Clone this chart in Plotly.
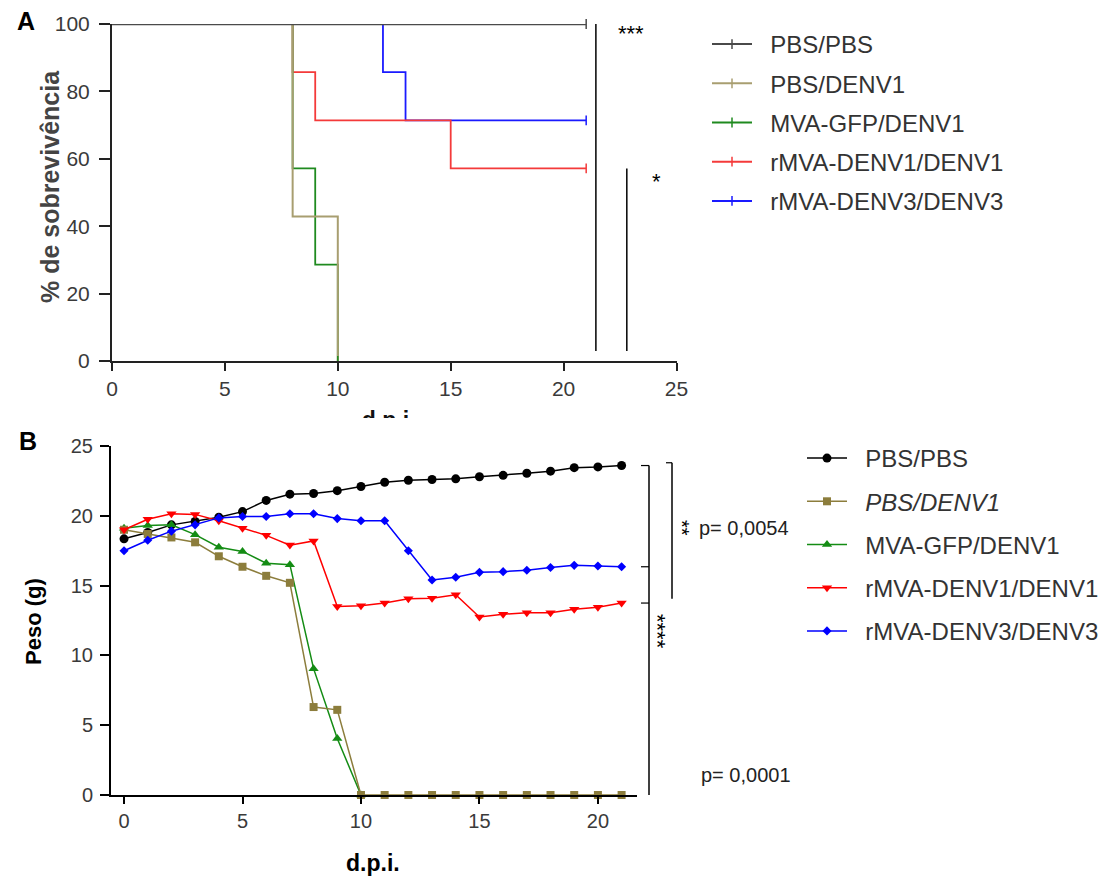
import plotly.graph_objects as go

# ---------------- data ----------------
groups = ["PBS/PBS", "PBS/DENV1", "MVA-GFP/DENV1", "rMVA-DENV1/DENV1", "rMVA-DENV3/DENV3"]

# Panel A: Kaplan-Meier survival, change points (day, % surviving)
surv_t_pbs = [0, 21]
surv_pbs = [100, 100]
surv_t_pbs_denv1 = [0, 8, 10]
surv_pbs_denv1 = [100, 42.86, 0]
surv_t_gfp = [0, 8, 9, 10]
surv_gfp = [100, 57.14, 28.57, 0]
surv_t_rmva1 = [0, 8, 9, 15, 21]
surv_rmva1 = [100, 85.71, 71.43, 57.14, 57.14]
surv_t_rmva3 = [0, 12, 13, 21]
surv_rmva3 = [100, 85.71, 71.43, 71.43]

# Panel B: mean body weight (g) per day post infection
days = list(range(22))
peso_pbs = [18.35, 18.8, 19.35, 19.6, 19.9, 20.3, 21.1, 21.55, 21.6, 21.8, 22.1,
            22.4, 22.55, 22.6, 22.65, 22.8, 22.9, 23.05, 23.2, 23.45, 23.5, 23.6]
peso_pbs_denv1 = [19.0, 18.7, 18.45, 18.1, 17.1, 16.35, 15.7, 15.2, 6.3, 6.1, 0,
                  0, 0, 0, 0, 0, 0, 0, 0, 0, 0, 0]
peso_gfp = [19.1, 19.3, 19.35, 18.65, 17.75, 17.45, 16.6, 16.5, 9.05, 4.05, 0]
peso_rmva1 = [19.0, 19.75, 20.15, 20.1, 19.65, 19.1, 18.6, 17.9, 18.2, 13.5, 13.55,
              13.75, 14.05, 14.1, 14.35, 12.75, 12.95, 13.05, 13.05, 13.3, 13.45, 13.75]
peso_rmva3 = [17.5, 18.25, 18.9, 19.35, 19.85, 19.95, 19.95, 20.15, 20.15, 19.8, 19.65,
              19.65, 17.5, 15.4, 15.6, 15.95, 16.0, 16.1, 16.3, 16.45, 16.4, 16.35]

surv_colors = ["#4a4a4a", "#a89e70", "#1f8a1f", "#f43a3a", "#1a1aff"]
surv_widths = [2.5, 2, 1.8, 1.8, 1.8]
peso_colors = ["#000000", "#8c7d3c", "#148c14", "#ff0000", "#0000ff"]
peso_symbols = ["circle", "square", "triangle-up", "triangle-down", "diamond"]
peso_sizes = [9, 8, 9, 9, 7]

W, H = 1109, 879
FONT = "Liberation Sans, Arial, sans-serif"
NARROW = "Liberation Sans Narrow, Arial Narrow, Liberation Sans, sans-serif"
GAP = "\u00a0\u00a0"  # extra room between legend symbol and label


def px(x):
    return x / W


def py(y):
    return 1 - y / H


fig = go.Figure()

# ---------------- panel A: survival ----------------
surv_sets = [
    (surv_t_pbs, surv_pbs),
    (surv_t_pbs_denv1, surv_pbs_denv1),
    (surv_t_gfp, surv_gfp),
    (surv_t_rmva1, surv_rmva1),
    (surv_t_rmva3, surv_rmva3),
]
# curves drawn back to front so the control line stays on top
for i in [4, 3, 2, 1, 0]:
    t, s = surv_sets[i]
    fig.add_trace(go.Scatter(
        x=t, y=s, mode="lines", line=dict(color=surv_colors[i], width=surv_widths[i], shape="hv"),
        xaxis="x", yaxis="y", showlegend=False, cliponaxis=False, hoverinfo="skip"))
for i, (t, s) in enumerate(surv_sets):
    # end-of-follow-up tick (sits on the drop line for groups with no survivors)
    alive = s[-1] > 0
    fig.add_trace(go.Scatter(
        x=[t[-1]], y=[s[-1]],
        mode="lines+markers", name=GAP + groups[i],
        line=dict(color=surv_colors[i], width=2),
        marker=dict(symbol="line-ns-open", size=7, line=dict(color=surv_colors[i], width=1.5)),
        xaxis="x", yaxis="y", legend="legend", legendgroup="a%d" % i,
        cliponaxis=not alive, hoverinfo="skip"))

# ---------------- panel B: weight ----------------
peso_sets = [peso_pbs, peso_pbs_denv1, peso_gfp, peso_rmva1, peso_rmva3]
draw_order = [0, 2, 1, 3, 4]
names_b = ["PBS/PBS", "<i>PBS/DENV1</i>", "MVA-GFP/DENV1", "rMVA-DENV1/DENV1", "rMVA-DENV3/DENV3"]
for i in draw_order:
    vals = peso_sets[i]
    fig.add_trace(go.Scatter(
        x=days[:len(vals)], y=vals, mode="lines+markers", name=GAP + names_b[i],
        line=dict(color=peso_colors[i], width=1.5),
        marker=dict(symbol=peso_symbols[i], size=peso_sizes[i], color=peso_colors[i]),
        xaxis="x2", yaxis="y2", legend="legend2", legendgroup="b%d" % i,
        legendrank=i + 1, cliponaxis=False, hoverinfo="skip"))

# x title of panel A, mostly hidden below its own clipping strip
fig.add_trace(go.Scatter(
    x=[0.49], y=[-0.17], mode="text", text=["<b>d.p.i.</b>"],
    textfont=dict(family=FONT, size=23, color="#111"),
    xaxis="x3", yaxis="y3", showlegend=False, cliponaxis=True, hoverinfo="skip"))

tick_a = dict(family=FONT, size=21, color="#3a3a3a")
tick_b = dict(family=FONT, size=20, color="#3a3a3a")

fig.update_layout(
    width=W, height=H, margin=dict(l=0, r=0, t=0, b=0, autoexpand=False),
    paper_bgcolor="white", plot_bgcolor="white", hovermode=False,
    xaxis=dict(domain=[px(112), px(676.5)], range=[0, 25], tickvals=[0, 5, 10, 15, 20, 25],
               showgrid=False, zeroline=False, showline=True, linecolor="#222", linewidth=2,
               ticks="outside", ticklen=8, tickwidth=1.5, tickcolor="#222", automargin=False,
               tickfont=tick_a, ticklabelstandoff=0, anchor="y"),
    yaxis=dict(domain=[py(361), py(24)], range=[0, 100], tickvals=[0, 20, 40, 60, 80, 100],
               showgrid=False, zeroline=False, showline=True, linecolor="#222", linewidth=2,
               ticks="outside", ticklen=11, tickwidth=1.5, tickcolor="#222", automargin=False,
               tickfont=tick_a, ticklabelstandoff=5, anchor="x"),
    xaxis2=dict(domain=[px(111), px(637)], range=[-0.55, 21.65], tickvals=[0, 5, 10, 15, 20],
                showgrid=False, zeroline=False, showline=True, linecolor="#000", linewidth=2,
                ticks="outside", ticklen=7, tickwidth=1.5, tickcolor="#000", automargin=False,
                tickfont=tick_b, ticklabelstandoff=0, anchor="y2"),
    yaxis2=dict(domain=[py(795), py(446)], range=[0, 25], tickvals=[0, 5, 10, 15, 20, 25],
                showgrid=False, zeroline=False, showline=True, linecolor="#000", linewidth=2,
                ticks="outside", ticklen=9, tickwidth=1.5, tickcolor="#000", automargin=False,
                tickfont=tick_b, ticklabelstandoff=3, anchor="x2"),
    xaxis3=dict(domain=[px(112), px(676.5)], range=[0, 1], visible=False, anchor="y3",
                automargin=False),
    yaxis3=dict(domain=[py(418), py(395)], range=[0, 1], visible=False, anchor="x3",
                automargin=False),
    legend=dict(x=px(707), y=py(22), xanchor="left", yanchor="top",
                xref="container", yref="container",
                font=dict(family=FONT, size=24, color="#333"),
                bgcolor="rgba(0,0,0,0)", tracegroupgap=5, itemwidth=40),
    legend2=dict(x=px(802), y=py(436), xanchor="left", yanchor="top",
                 xref="container", yref="container",
                 font=dict(family=FONT, size=24, color="#333"),
                 bgcolor="rgba(0,0,0,0)", tracegroupgap=9, itemwidth=40),
)

# significance markers, panel A
shapes = [
    dict(type="line", xref="x", yref="y", x0=21.43, x1=21.43, y0=3, y1=100,
         line=dict(color="#000", width=1.5)),
    dict(type="line", xref="x", yref="y", x0=22.8, x1=22.8, y0=3, y1=surv_rmva1[-1],
         line=dict(color="#000", width=1.5)),
]
# significance brackets, panel B (tied to the day-21 weights)
bx1, bx1t = px(649), px(641)
bx2, bx2t = px(672), px(666)
shapes.append(dict(type="line", xref="paper", yref="y2", x0=bx1, x1=bx1, y0=0, y1=peso_pbs[-1],
                   line=dict(color="#000", width=1.5)))
for v in (peso_pbs[-1], peso_rmva3[-1], peso_rmva1[-1]):
    shapes.append(dict(type="line", xref="paper", yref="y2", x0=bx1t, x1=bx1, y0=v, y1=v,
                       line=dict(color="#000", width=1.2)))
shapes.append(dict(type="line", xref="paper", yref="y2", x0=bx2, x1=bx2, y0=peso_rmva1[-1] + 0.3,
                   y1=peso_pbs[-1] + 0.2, line=dict(color="#000", width=1.5)))
shapes.append(dict(type="line", xref="paper", yref="y2", x0=bx2t, x1=bx2, y0=peso_pbs[-1] + 0.2,
                   y1=peso_pbs[-1] + 0.2, line=dict(color="#000", width=1.2)))
fig.update_layout(shapes=shapes)

ann = [
    dict(text="<b>A</b>", x=px(26), y=py(21), font=dict(family=FONT, size=25, color="#000")),
    dict(text="<b>B</b>", x=px(28), y=py(441), font=dict(family=FONT, size=25, color="#000")),
    dict(text="<b>% de sobrevivência</b>", x=px(50), y=py(187), textangle=-90,
         font=dict(family=FONT, size=25, color="#444")),
    dict(text="<b>Peso (g)</b>", x=px(33), y=py(622), textangle=-90,
         font=dict(family=FONT, size=22, color="#000")),
    dict(text="<b>d.p.i.</b>", x=px(373), y=py(863), font=dict(family=FONT, size=23, color="#000")),
    dict(text="***", x=px(631), y=py(33), font=dict(family=FONT, size=22, color="#000")),
    dict(text="*", x=px(656), y=py(181), font=dict(family=FONT, size=22, color="#000")),
    dict(text="**", x=px(682), y=py(528), textangle=90,
         font=dict(family=FONT, size=20, color="#000")),
    dict(text="****", x=px(658), y=py(631), textangle=90,
         font=dict(family=FONT, size=22, color="#000")),
    dict(text="p= 0,0054", x=px(697), y=py(528), xanchor="left",
         font=dict(family=NARROW, size=20, color="#222")),
    dict(text="p= 0,0001", x=px(699), y=py(775), xanchor="left",
         font=dict(family=NARROW, size=20, color="#222")),
]
for a in ann:
    a.setdefault("showarrow", False)
    a.setdefault("xanchor", "center")
    a.setdefault("yanchor", "middle")
    a["xref"] = "paper"
    a["yref"] = "paper"
fig.update_layout(annotations=ann)

fig.write_html("out.html")
